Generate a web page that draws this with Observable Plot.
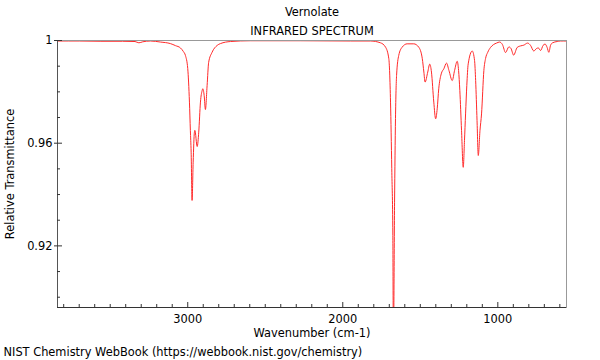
<!DOCTYPE html>
<html><head><meta charset="utf-8">
<script src="https://cdn.jsdelivr.net/npm/d3@7"></script>
<script src="https://cdn.jsdelivr.net/npm/@observablehq/plot@0.6"></script>
<style>body{margin:0;background:#fff;font-family:"DejaVu Sans",sans-serif}</style>
</head><body><div id="chart"></div>
<script>
const wavenumber = [3840,3700,3560,3420,3340,3315,3290,3240,3176,3112,3079,3047,3028,3015,3000,2989,2983,2978,2972,2965,2957,2954,2939,2929,2918,2907,2903,2894,2886,2875,2865,2843,2810,2789,2724,2596,2273,1950,1821,1757,1724,1703,1692,1684,1677,1673.5,1666,1660,1653,1639,1617,1585,1542,1510,1487,1477,1469,1452,1439,1428,1413,1401,1391,1381,1365,1348,1331,1315,1294,1279,1262,1253,1245,1234,1223,1215,1208,1200,1191,1165,1150,1143,1134,1126,1115,1105,1090,1079,1065,1047,1028,1008,989,970,950,929,915,898,875,853,832,808,789,768,750,739,724,708,695,682,671,660,647,617,596,557];
const transmittance = [0.9998,0.9998,0.9997,0.9997,0.9996,0.9991,0.9995,0.9998,0.9994,0.9988,0.998,0.9971,0.9957,0.9942,0.9891,0.976,0.965,0.9565,0.9377,0.9526,0.9643,0.965,0.9587,0.9643,0.976,0.9805,0.9812,0.9786,0.9731,0.9825,0.9915,0.9954,0.9981,0.9988,0.9996,0.9999,0.9999,0.9998,0.9998,0.9991,0.9974,0.9929,0.976,0.9501,0.924,0.88,0.937,0.9696,0.9864,0.9942,0.9974,0.9987,0.9987,0.9974,0.9929,0.9877,0.9838,0.9877,0.9908,0.9877,0.976,0.9695,0.9734,0.9812,0.987,0.989,0.9912,0.9883,0.9844,0.9883,0.9919,0.9883,0.9805,0.965,0.9506,0.961,0.9714,0.9825,0.9909,0.9959,0.9922,0.9844,0.9688,0.9552,0.965,0.9714,0.9883,0.993,0.9954,0.9973,0.9984,0.999,0.9994,0.9984,0.9953,0.9975,0.9969,0.9943,0.9973,0.9979,0.9982,0.999,0.9981,0.9959,0.9969,0.9971,0.9961,0.9981,0.9986,0.9973,0.9954,0.9981,0.9991,0.9996,0.9998,0.9998];
const xMajorTicks = [3000, 2000, 1000];
const xMinorTicks = [3800,3700,3600,3500,3400,3300,3200,3100,2900,2800,2700,2600,2500,2400,2300,2200,2100,1900,1800,1700,1600,1500,1400,1300,1200,1100,900,800,700,600];
const yMajorTicks = [1, 0.96, 0.92];
const yMinorTicks = [0.99, 0.98, 0.97, 0.95, 0.94, 0.93, 0.91, 0.90];
const xDomain = [3840, 557];
const yDomain = [0.896, 1.0];
const titleText = "Vernolate";
const subtitleText = "INFRARED SPECTRUM";
const xLabel = "Wavenumber (cm-1)";
const yLabel = "Relative Transmittance";
const captionText = "NIST Chemistry WebBook (https://webbook.nist.gov/chemistry)";

const spectrum = wavenumber.map((w, i) => ({wn: w, t: transmittance[i]}));
const W = 600, H = 360, mL = 57, mR = 34, mT = 40, mB = 53;
const pw = W - mL - mR, ph = H - mT - mB;

const chart = Plot.plot({
  width: W, height: H,
  marginLeft: mL, marginRight: mR, marginTop: mT, marginBottom: mB,
  style: {fontFamily: "'DejaVu Sans', sans-serif", fontSize: "11.4px", background: "#fff", color: "#000"},
  x: {domain: xDomain, axis: null},
  y: {domain: yDomain, axis: null},
  marks: [
    Plot.line(spectrum, {x: "wn", y: "t", stroke: "#ff2a2a", strokeWidth: 1, curve: "monotone-x", clip: true}),
    Plot.frame({stroke: "#999"}),
    Plot.ruleX([xDomain[0]], {stroke: "#555"}),
    Plot.ruleY([yDomain[0]], {stroke: "#333"}),
    Plot.tickY(yMinorTicks, {y: d => d, insetRight: pw - 3, stroke: "#333"}),
    Plot.tickY(yMajorTicks, {y: d => d, insetLeft: -3, insetRight: pw - 5, stroke: "#333"}),
    Plot.tickX(xMinorTicks, {x: d => d, insetTop: ph - 3, stroke: "#333"}),
    Plot.tickX(xMajorTicks, {x: d => d, insetTop: ph - 5, stroke: "#333"}),
    Plot.text(yMajorTicks, {y: d => d, text: d => String(d), frameAnchor: "left", dx: -5, textAnchor: "end", fill: "#000"}),
    Plot.text(xMajorTicks, {x: d => d, text: d => String(d), frameAnchor: "bottom", dy: 15, fill: "#000"}),
    Plot.text([xLabel], {text: d => d, frameAnchor: "bottom", dy: 29, fill: "#000"}),
    Plot.text([yLabel], {text: d => d, frameAnchor: "left", dx: -47, rotate: -90, textAnchor: "middle", fill: "#000"}),
    Plot.text([titleText], {text: d => d, frameAnchor: "top", dy: -33, fill: "#000"}),
    Plot.text([subtitleText], {text: d => d, frameAnchor: "top", dy: -14, fill: "#000"}),
    Plot.text([captionText], {text: d => d, frameAnchor: "bottom-left", dx: -54, dy: 48, textAnchor: "start", fill: "#000"})
  ]
});
document.getElementById("chart").appendChild(chart);
</script>
</body></html>
